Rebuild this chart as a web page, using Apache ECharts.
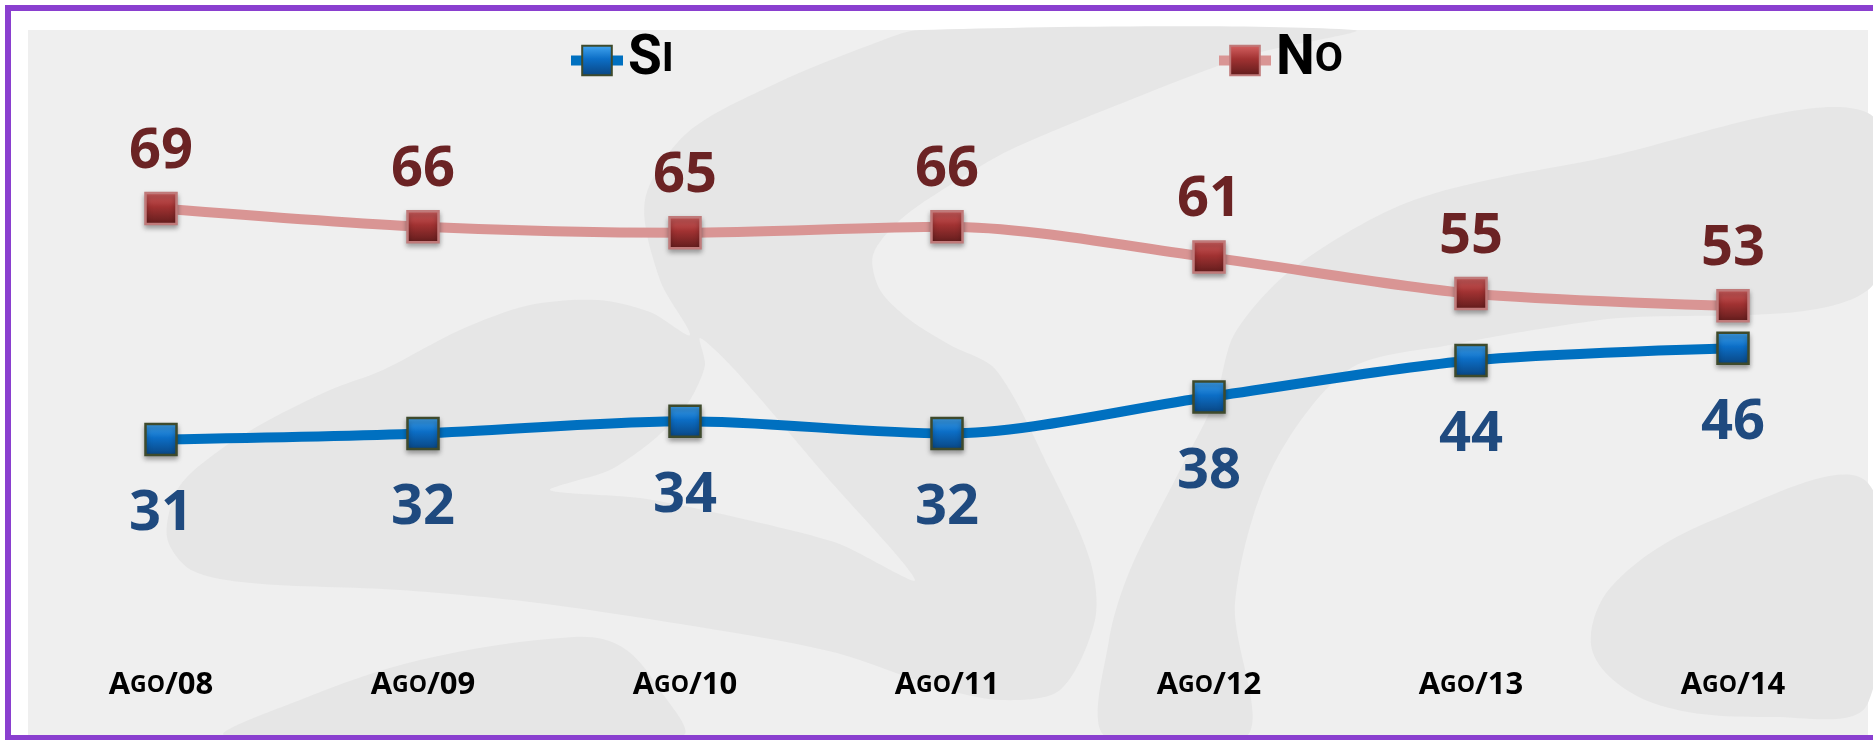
<!DOCTYPE html>
<html>
<head>
<meta charset="utf-8">
<script src="https://cdn.jsdelivr.net/npm/echarts@6/dist/echarts.min.js"></script>
<style>
  html, body { margin: 0; padding: 0; background: #ffffff; }
  #chart { width: 1873px; height: 740px; }
</style>
</head>
<body>
<div id="chart"></div>
<script>
// Poll data: Ago/08 .. Ago/14
const categories = ['Ago/08', 'Ago/09', 'Ago/10', 'Ago/11', 'Ago/12', 'Ago/13', 'Ago/14'];
const siValues = [31, 32, 34, 32, 38, 44, 46];
const noValues = [69, 66, 65, 66, 61, 55, 53];
const yRange = [0, 100];

const chart = echarts.init(document.getElementById('chart'));

// small caps helper for category labels: "Ago/08" -> A + GO + /08
function smallCapsLabel(value) {
    const first = value.charAt(0).toUpperCase();
    const rest = value.slice(1, 3).toUpperCase();
    const tail = value.slice(3);
    return '{a|' + first + '}{s|' + rest + '}{a|' + tail + '}';
}

const siMarker = new echarts.graphic.LinearGradient(0, 0, 0, 1, [
    { offset: 0, color: '#45a8f2' },
    { offset: 0.45, color: '#0c6ec6' },
    { offset: 1, color: '#0a447f' }
]);
const noMarker = new echarts.graphic.LinearGradient(0, 0, 0, 1, [
    { offset: 0, color: '#d76464' },
    { offset: 0.45, color: '#a13232' },
    { offset: 1, color: '#5e1b1b' }
]);

const legendRich = {
    b: { fontFamily: 'Roboto', fontWeight: 'bold', fontSize: 55, color: '#000' },
    s: { fontFamily: 'Roboto', fontWeight: 'bold', fontSize: 41, color: '#000' }
};

// watermark shapes behind the plot
const shade = '#e6e6e6';
const backdrop = [
    { type: 'rect', z: -20, shape: { x: 28, y: 30, width: 1840, height: 706 }, style: { fill: '#efefef' } },
    {
        type: 'polygon', z: -15, shape: {
            smooth: 0.3,
            points: [[383, 370], [460, 330], [530, 305], [598, 300], [650, 312], [690, 335], [660, 280],
                [645, 200], [687, 133], [777, 83], [870, 45], [920, 30], [1354, 30], [1250, 55], [1130, 100],
                [1010, 150], [950, 185], [900, 220], [873, 255], [880, 290], [910, 320], [950, 345], [996, 370],
                [1050, 470], [1090, 560], [1095, 620], [1060, 690], [1000, 700], [937, 687], [837, 653],
                [717, 630], [538, 603], [400, 590], [251, 583], [191, 570], [167, 537], [179, 487], [220, 450],
                [269, 420], [330, 390]]
        }, style: { fill: shade }
    },
    {
        type: 'polygon', z: -14, shape: {
            smooth: 0.25,
            points: [[700, 338], [735, 370], [825, 475], [915, 580], [837, 543], [717, 513], [640, 498],
                [550, 490], [610, 470], [657, 437], [690, 400], [705, 365]]
        }, style: { fill: '#efefef' }
    },
    {
        type: 'polygon', z: -15, shape: {
            smooth: 0.3,
            points: [[1868, 113], [1593, 160], [1414, 200], [1295, 267], [1235, 333], [1215, 400], [1180, 470],
                [1130, 570], [1109, 640], [1105, 736], [1247, 736], [1235, 603], [1271, 470], [1348, 370],
                [1450, 345], [1600, 320], [1868, 290]]
        }, style: { fill: shade }
    },
    {
        type: 'polygon', z: -15, shape: {
            smooth: 0.35,
            points: [[1868, 483], [1713, 520], [1611, 587], [1593, 653], [1653, 703], [1773, 717], [1868, 703]]
        }, style: { fill: shade }
    },
    {
        type: 'polygon', z: -15, shape: {
            smooth: 0.35,
            points: [[227, 736], [300, 700], [420, 660], [574, 637], [622, 647], [660, 690], [681, 736]]
        }, style: { fill: shade }
    },
    { type: 'rect', z: -5, shape: { x: 8, y: 8, width: 1900, height: 730 }, style: { fill: 'none', stroke: '#8a3fcf', lineWidth: 6 } }
];

const option = {
    animation: false,
    backgroundColor: '#ffffff',
    graphic: backdrop,
    grid: { left: 30, right: 9, top: 20, bottom: 112 },
    legend: [
        {
            data: ['Si'], left: 561, top: 28,
            itemWidth: 52, itemHeight: 37,
            lineStyle: { width: 10 },
            formatter: () => '{b|S}{s|I}',
            textStyle: { rich: legendRich }
        },
        {
            data: ['No'], left: 1209, top: 28,
            itemWidth: 52, itemHeight: 37,
            lineStyle: { width: 10 },
            formatter: () => '{b|N}{s|O}',
            textStyle: { rich: legendRich }
        }
    ],
    xAxis: {
        type: 'category',
        data: categories,
        boundaryGap: true,
        axisLine: { show: false },
        axisTick: { show: false },
        axisLabel: {
            margin: 42,
            formatter: smallCapsLabel,
            rich: {
                a: { fontFamily: 'Open Sans', fontWeight: 'bold', fontSize: 31, color: '#000' },
                s: { fontFamily: 'Open Sans', fontWeight: 'bold', fontSize: 23, color: '#000' }
            }
        }
    },
    yAxis: {
        type: 'value',
        min: yRange[0],
        max: yRange[1],
        show: false,
        splitLine: { show: false }
    },
    series: [
        {
            name: 'Si',
            type: 'line',
            data: siValues,
            smooth: 0.3,
            symbol: 'rect',
            symbolSize: 31,
            z: 3,
            lineStyle: { color: '#0070c0', width: 10 },
            itemStyle: {
                color: siMarker,
                borderColor: '#3e4a2c',
                borderWidth: 2.5,
                shadowColor: 'rgba(0,0,0,0.35)',
                shadowBlur: 5,
                shadowOffsetY: 3
            },
            label: {
                show: true,
                position: 'bottom',
                distance: 29,
                fontFamily: 'Open Sans',
                fontWeight: 'bold',
                fontSize: 56,
                lineHeight: 58,
                color: '#1f4a7f'
            }
        },
        {
            name: 'No',
            type: 'line',
            data: noValues,
            smooth: 0.3,
            symbol: 'rect',
            symbolSize: 31,
            z: 3,
            lineStyle: { color: '#d99594', width: 10 },
            itemStyle: {
                color: noMarker,
                borderColor: '#c07a7a',
                borderWidth: 2.5,
                shadowColor: 'rgba(0,0,0,0.35)',
                shadowBlur: 5,
                shadowOffsetY: 3
            },
            label: {
                show: true,
                position: 'top',
                distance: 11,
                fontFamily: 'Open Sans',
                fontWeight: 'bold',
                fontSize: 56,
                lineHeight: 58,
                color: '#6b2324'
            }
        }
    ]
};

chart.setOption(option);
</script>
</body>
</html>
